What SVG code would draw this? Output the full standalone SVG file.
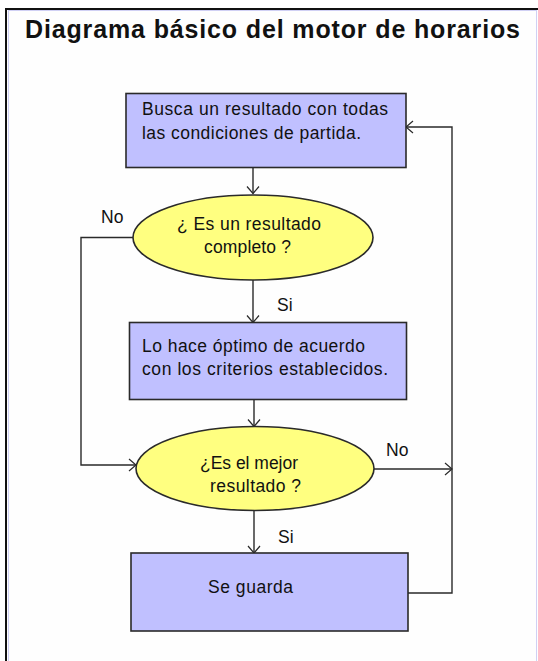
<svg xmlns="http://www.w3.org/2000/svg" width="538" height="661" viewBox="0 0 538 661">
<style>
.t{font-family:"Liberation Sans",Arial,sans-serif;font-size:17.5px;fill:#111}
.box{fill:#c0c0ff;stroke:#2a2a2a;stroke-width:1.6}
.dec{fill:#ffff80;stroke:#2a2a2a;stroke-width:1.6}
.ln{fill:none;stroke:#2a2a2a;stroke-width:1.4}
</style>
<defs>
<marker id="ah" viewBox="-9 -8 10 16" refX="0" refY="0" markerWidth="10" markerHeight="16" markerUnits="userSpaceOnUse" orient="auto">
<path d="M-7,-6 L0,0 L-7,6" fill="none" stroke="#2a2a2a" stroke-width="1.2"/>
</marker>
</defs>
<rect x="0" y="0" width="538" height="661" fill="#ffffff"/>
<g id="frame">
<rect x="6" y="9" width="532" height="652" fill="#fefefe"/>
<line x1="5" y1="9" x2="538" y2="9" stroke="#111" stroke-width="2"/>
<line x1="6" y1="8" x2="6" y2="661" stroke="#111" stroke-width="2"/>
<line x1="8.5" y1="11" x2="8.5" y2="661" stroke="#d0d0f4" stroke-width="1"/>
<line x1="8" y1="10.5" x2="537" y2="10.5" stroke="#d0d0f4" stroke-width="1"/>
<line x1="536.5" y1="10" x2="536.5" y2="661" stroke="#d0d0f4" stroke-width="1"/>
</g>
<text id="title" x="25" y="37.5" style="font-family:'Liberation Sans',Arial,sans-serif;font-size:25px;font-weight:bold;fill:#111" textLength="495" lengthAdjust="spacing">Diagrama básico del motor de horarios</text>
<g id="connectors">
<path class="ln" d="M253,167.5 V193.5" marker-end="url(#ah)"/>
<path class="ln" d="M253,280 V322.5" marker-end="url(#ah)"/>
<path class="ln" d="M254,399.5 V426.5" marker-end="url(#ah)"/>
<path class="ln" d="M254,510.5 V553" marker-end="url(#ah)"/>
<path class="ln" d="M133,237.5 H81 V465 H136" marker-end="url(#ah)"/>
<path class="ln" d="M374,469 H452" marker-end="url(#ah)"/>
<path class="ln" d="M408,593 H452 V127 H406" marker-end="url(#ah)"/>
<text class="t" x="101" y="223">No</text>
<text class="t" x="277" y="311">Si</text>
<text class="t" x="386" y="456">No</text>
<text class="t" x="278" y="543">Si</text>
</g>
<g id="n1">
<rect class="box" x="126" y="93.5" width="280" height="74"/>
<text class="t" x="142" y="115" textLength="246" lengthAdjust="spacing">Busca un resultado con todas</text>
<text class="t" x="142" y="139" textLength="219" lengthAdjust="spacing">las condiciones de partida.</text>
</g>
<g id="d1">
<ellipse class="dec" cx="253" cy="237.5" rx="120" ry="42.5"/>
<text class="t" x="177" y="230" textLength="144" lengthAdjust="spacing">¿ Es un resultado</text>
<text class="t" x="204" y="253" textLength="87" lengthAdjust="spacing">completo ?</text>
</g>
<g id="n2">
<rect class="box" x="129.5" y="322.5" width="277" height="77"/>
<text class="t" x="142" y="352" textLength="223" lengthAdjust="spacing">Lo hace óptimo de acuerdo</text>
<text class="t" x="142" y="375" textLength="246" lengthAdjust="spacing">con los criterios establecidos.</text>
</g>
<g id="d2">
<ellipse class="dec" cx="255" cy="468.5" rx="119" ry="42"/>
<text class="t" x="200" y="469" textLength="98" lengthAdjust="spacing">¿Es el mejor</text>
<text class="t" x="210" y="492" textLength="91" lengthAdjust="spacing">resultado ?</text>
</g>
<g id="n3">
<rect class="box" x="131" y="553" width="277" height="78"/>
<text class="t" x="208" y="593" textLength="85" lengthAdjust="spacing">Se guarda</text>
</g>
</svg>
